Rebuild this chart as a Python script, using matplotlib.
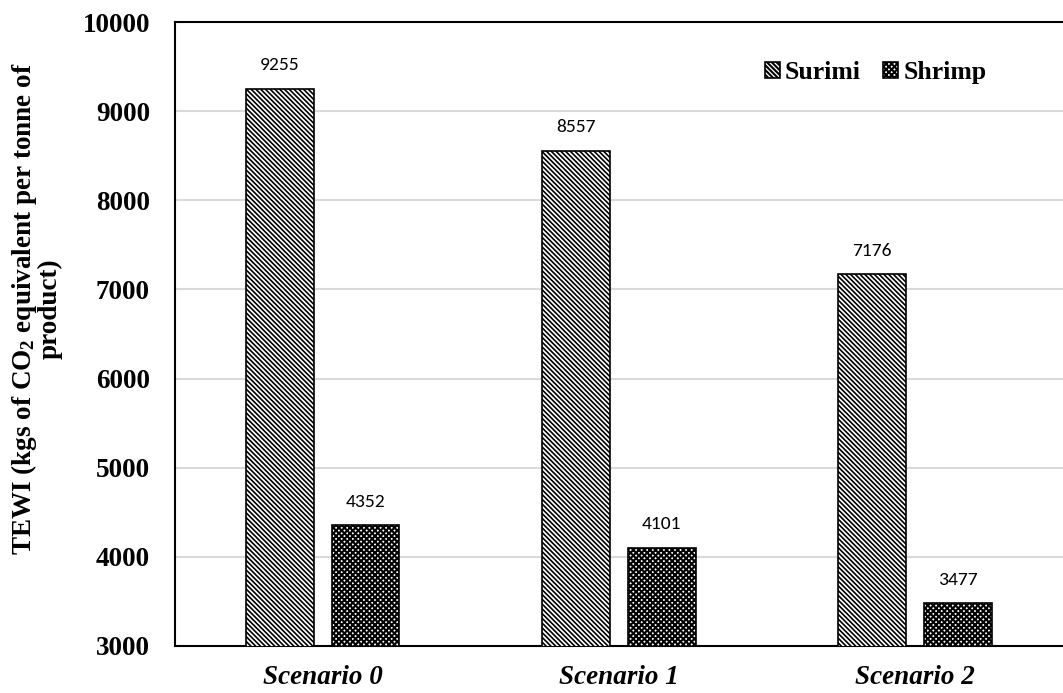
import matplotlib
matplotlib.use("Agg")
import matplotlib.pyplot as plt
import numpy as np

scenarios = ["Scenario 0", "Scenario 1", "Scenario 2"]
surimi = [9255, 8557, 7176]
shrimp = [4352, 4101, 3477]
yticks = [3000, 4000, 5000, 6000, 7000, 8000, 9000, 10000]

plt.rcParams["mathtext.fontset"] = "custom"
plt.rcParams["mathtext.rm"] = "Liberation Serif:bold"
plt.rcParams["mathtext.bf"] = "Liberation Serif:bold"
plt.rcParams["mathtext.it"] = "Liberation Serif:bold:italic"

SERIF = "Liberation Serif"

fig = plt.figure(figsize=(10.63, 6.93), dpi=100)
ax = fig.add_axes([0.1646, 0.068, 0.8354, 0.900])

x = np.arange(len(scenarios))
width = 0.227
off = 0.145


def hatch_width(bars, lw):
    for p in bars:
        if hasattr(p, "set_hatch_linewidth"):
            p.set_hatch_linewidth(lw)


plt.rcParams["hatch.linewidth"] = 1.2
b1 = ax.bar(x - off, surimi, width, color="white", edgecolor="black",
            linewidth=1.2, hatch="\\" * 7, label="Surimi", zorder=3)
hatch_width(b1, 1.2)
plt.rcParams["hatch.linewidth"] = 1.5
b2 = ax.bar(x + off, shrimp, width, color="white", edgecolor="black",
            linewidth=1.2, hatch="x" * 6, label="Shrimp", zorder=3)
hatch_width(b2, 1.5)

for bars, vals in ((b1, surimi), (b2, shrimp)):
    for rect, v in zip(bars, vals):
        ax.annotate(f"{v}", (rect.get_x() + rect.get_width() / 2, v),
                    xytext=(0, 11), textcoords="offset points",
                    ha="center", va="bottom", fontsize=14, family="Carlito")

ax.set_ylim(3000, 10000)
ax.set_xlim(-0.5, 2.5)
ax.set_yticks(yticks)
ax.set_yticklabels([str(t) for t in yticks], fontsize=19.5, fontweight="bold",
                   family=SERIF)
ax.set_xticks(x)
ax.set_xticklabels(scenarios, fontsize=19.5, fontweight="bold", fontstyle="italic",
                   family=SERIF)
ax.tick_params(axis="x", length=0, pad=14)
ax.tick_params(axis="y", length=0, pad=18)

ax.yaxis.grid(True, color="#d9d9d9", linewidth=1.5, zorder=0)
ax.set_axisbelow(True)
for side in ("left", "bottom", "top"):
    ax.spines[side].set_linewidth(1.5)
    ax.spines[side].set_color("black")
ax.spines["right"].set_visible(False)

ax.set_ylabel("TEWI (kgs of CO$_2$ equivalent per tonne of\nproduct)",
              fontsize=19.5, fontweight="bold", family=SERIF, linespacing=0.95)
ax.yaxis.set_label_coords(-0.126, 0.541)

leg = ax.legend(loc="upper right", bbox_to_anchor=(0.94, 0.975), frameon=False,
                ncol=2, prop={"family": SERIF, "weight": "bold", "size": 18.5},
                handlelength=0.6, handleheight=0.6, handletextpad=0.2,
                columnspacing=0.85)

fig.savefig("out.png", dpi=100)
